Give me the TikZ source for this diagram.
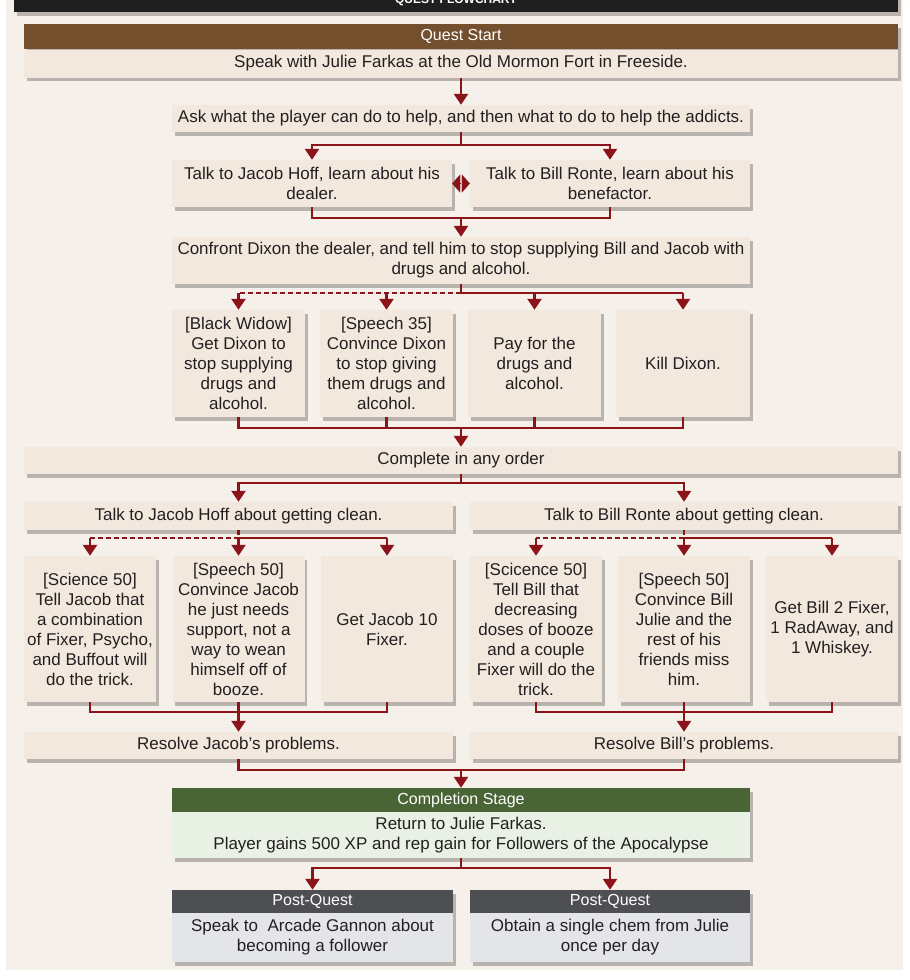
\documentclass[tikz,border=0pt]{standalone}
\usepackage{fontspec}
\setmainfont{Liberation Sans}
\usepackage{tikz}
\usetikzlibrary{arrows.meta, positioning, shadows, calc}

\definecolor{pagecream}{HTML}{F6F0EA}
\definecolor{boxcream}{HTML}{F2E8DE}
\definecolor{inkgray}{HTML}{231F20}
\definecolor{questbrown}{HTML}{744F2E}
\definecolor{barblack}{HTML}{201F20}
\definecolor{stagegreen}{HTML}{4A6535}
\definecolor{stagemint}{HTML}{E9F1E5}
\definecolor{postgray}{HTML}{4E4F53}
\definecolor{postlight}{HTML}{E4E5E8}
\definecolor{arrowred}{HTML}{8B141A}

\begin{document}
\begin{tikzpicture}[x=1pt,y=-1pt,
    box/.style={fill=boxcream, text=inkgray, align=center, inner sep=0pt,
      font=\fontsize{17}{20}\selectfont,
      drop shadow={shadow xshift=2.5pt,shadow yshift=-3.5pt,fill=black,opacity=.25}},
    hdr/.style={text=white, inner sep=0pt, font=\fontsize{16}{18}\selectfont,
      drop shadow={shadow xshift=2.5pt,shadow yshift=-3.5pt,fill=black,opacity=.25}},
    line/.style={draw=arrowred, line width=2.4pt},
    dashline/.style={line, dash pattern=on 5pt off 3pt},
    arr/.style={line, -{Triangle[width=14pt,length=11pt]}},
    dbl/.style={draw=arrowred, line width=0.1pt, -{Triangle[width=18pt,length=8pt]}}]
  \useasboundingbox (0,0) rectangle (910,980);
  \clip (0,0) rectangle (910,980);
  \fill[white] (0,0) rectangle (910,980);
  \fill[pagecream] (6,0) rectangle (903,970);

  % title bar, cut off at the top
  \fill[barblack, drop shadow={shadow xshift=2.5pt,shadow yshift=-3.5pt,fill=black,opacity=.25}]
    (14,-5) rectangle (898,12);
  \node[anchor=base, text=white, font=\bfseries\fontsize{12}{14}\selectfont] (title) at (456,3) {QUEST FLOWCHART};

  % quest start
  \node[hdr, fill=questbrown, minimum width=874pt, minimum height=25pt] (qstart) at (461,36.5) {Quest Start};
  \node[box, minimum width=874pt, minimum height=28pt] (speak) at (461,63.5) {Speak with Julie Farkas at the Old Mormon Fort in Freeside.};

  \node[box, minimum width=578pt, minimum height=27pt] (ask) at (461,118.5) {Ask what the player can do to help, and then what to do to help the addicts.};
  \node[box, minimum width=280pt, minimum height=47pt] (jh) at (312,183.5) {Talk to Jacob Hoff, learn about his\\dealer.};
  \node[box, minimum width=280pt, minimum height=47pt] (br) at (610,183.5) {Talk to Bill Ronte, learn about his\\benefactor.};
  \node[box, minimum width=578pt, minimum height=47pt] (conf) at (461,260.5) {Confront Dixon the dealer, and tell him to stop supplying Bill and Jacob with\\drugs and alcohol.};

  % ways to deal with Dixon
  \node[box, minimum width=133pt, minimum height=107pt] (d1) at (238.5,363.5) {[Black Widow]\\Get Dixon to\\stop supplying\\drugs and\\alcohol.};
  \node[box, minimum width=133pt, minimum height=107pt] (d2) at (386.5,363.5) {[Speech 35]\\Convince Dixon\\to stop giving\\them drugs and\\alcohol.};
  \node[box, minimum width=133pt, minimum height=107pt] (d3) at (534.5,363.5) {Pay for the\\drugs and\\alcohol.};
  \node[box, minimum width=134pt, minimum height=107pt] (d4) at (683,363.5) {Kill Dixon.};

  \node[box, minimum width=874pt, minimum height=27pt] (any) at (461,460.5) {Complete in any order};
  \node[box, minimum width=429pt, minimum height=28pt] (jclean) at (238.5,516) {Talk to Jacob Hoff about getting clean.};
  \node[box, minimum width=428pt, minimum height=28pt] (bclean) at (684,516) {Talk to Bill Ronte about getting clean.};

  % Jacob options
  \node[box, minimum width=132pt, minimum height=146pt] (j1) at (90,629) {[Science 50]\\Tell Jacob that\\a combination\\of Fixer, Psycho,\\and Buffout will\\do the trick.};
  \node[box, minimum width=132pt, minimum height=146pt] (j2) at (238.5,629) {[Speech 50]\\Convince Jacob\\he just needs\\support, not a\\way to wean\\himself off of\\booze.};
  \node[box, minimum width=132pt, minimum height=146pt] (j3) at (387,629) {Get Jacob 10\\Fixer.};

  % Bill options
  \node[box, minimum width=132pt, minimum height=146pt] (b1) at (536,629) {[Scicence 50]\\Tell Bill that\\decreasing\\doses of booze\\and a couple\\Fixer will do the\\trick.};
  \node[box, minimum width=132pt, minimum height=146pt] (b2) at (684,629) {[Speech 50]\\Convince Bill\\Julie and the\\rest of his\\friends miss\\him.};
  \node[box, minimum width=132pt, minimum height=146pt] (b3) at (832,629) {Get Bill 2 Fixer,\\1 RadAway, and\\1 Whiskey.};

  \node[box, minimum width=429pt, minimum height=27pt] (rj) at (238.5,745.5) {Resolve Jacob’s problems.};
  \node[box, minimum width=428pt, minimum height=27pt] (rb) at (684,745.5) {Resolve Bill’s problems.};

  % completion
  \node[hdr, fill=stagegreen, minimum width=578pt, minimum height=24pt] (csh) at (461,800) {Completion Stage};
  \node[box, fill=stagemint, minimum width=578pt, minimum height=46pt] (csb) at (461,835) {Return to Julie Farkas.\\Player gains 500 XP and rep gain for Followers of the Apocalypse};

  % post-quest
  \node[hdr, fill=postgray, minimum width=281pt, minimum height=23pt] (pq1h) at (312.5,901.5) {Post-Quest};
  \node[box, fill=postlight, minimum width=281pt, minimum height=49pt] (pq1b) at (312.5,937.5) {Speak to\ \ Arcade Gannon about\\becoming a follower};
  \node[hdr, fill=postgray, minimum width=280pt, minimum height=23pt] (pq2h) at (610,901.5) {Post-Quest};
  \node[box, fill=postlight, minimum width=280pt, minimum height=49pt] (pq2b) at (610,937.5) {Obtain a single chem from Julie\\once per day};

  % connectors
  \draw[arr] (speak) -- (ask);
  \draw[arr] (ask.south) -- ++(0,13) -| (jh.north);
  \draw[arr] (ask.south) -- ++(0,13) -| (br.north);

  \coordinate (swap) at ($(jh.east)!0.5!(br.west)$);
  \draw[dbl] ([xshift=-1pt]swap) -- (jh.east);
  \draw[dbl] ([xshift=1pt]swap) -- (br.west);

  \coordinate (tj) at (461,218);
  \draw[line] (jh.south) |- (tj) -| (br.south);
  \draw[arr] (tj) -- (conf);

  \coordinate (tc) at (461,293);
  \draw[line] (conf) -- (tc);
  \draw[dashline] (tc) -- (tc -| d1.north);
  \draw[line] (tc) -- (tc -| d4.north);
  \foreach \n in {d1,d2,d3,d4}
    \draw[arr] (tc -| \n.north) -- (\n.north);

  \coordinate (bd) at (461,428);
  \draw[line] (d1.south) |- (bd) -| (d4.south);
  \draw[line] (d2.south) -- (d2.south |- bd);
  \draw[line] (d3.south) -- (d3.south |- bd);
  \draw[arr] (bd) -- (any);

  \coordinate (ta) at (461,483);
  \draw[line] (any) -- (ta);
  \draw[arr] (ta) -| (jclean.north);
  \draw[arr] (ta) -| (bclean.north);

  \coordinate (tjc) at ([yshift=-8pt]jclean.south);
  \draw[dashline] (jclean) -- (tjc);
  \draw[dashline] (tjc) -- (tjc -| j1.north);
  \draw[line] (tjc) -- (tjc -| j3.north);
  \foreach \n in {j1,j2,j3}
    \draw[arr] (tjc -| \n.north) -- (\n.north);

  \coordinate (tbc) at ([yshift=-8pt]bclean.south);
  \draw[dashline] (bclean) -- (tbc);
  \draw[dashline] (tbc) -- (tbc -| b1.north);
  \draw[line] (tbc) -- (tbc -| b3.north);
  \foreach \n in {b1,b2,b3}
    \draw[arr] (tbc -| \n.north) -- (\n.north);

  \coordinate (bj) at ([yshift=-10pt]j2.south);
  \draw[line] (j1.south) |- (bj) -| (j3.south);
  \draw[arr] (j2) -- (rj);
  \coordinate (bb) at ([yshift=-10pt]b2.south);
  \draw[line] (b1.south) |- (bb) -| (b3.south);
  \draw[arr] (b2) -- (rb);

  \coordinate (tr) at (461,770);
  \draw[line] (rj.south) |- (tr) -| (rb.south);
  \draw[arr] (tr) -- (csh);

  \coordinate (tp) at (461,868);
  \draw[line] (csb) -- (tp);
  \draw[arr] (tp) -| (pq1h.north);
  \draw[arr] (tp) -| (pq2h.north);
\end{tikzpicture}
\end{document}
